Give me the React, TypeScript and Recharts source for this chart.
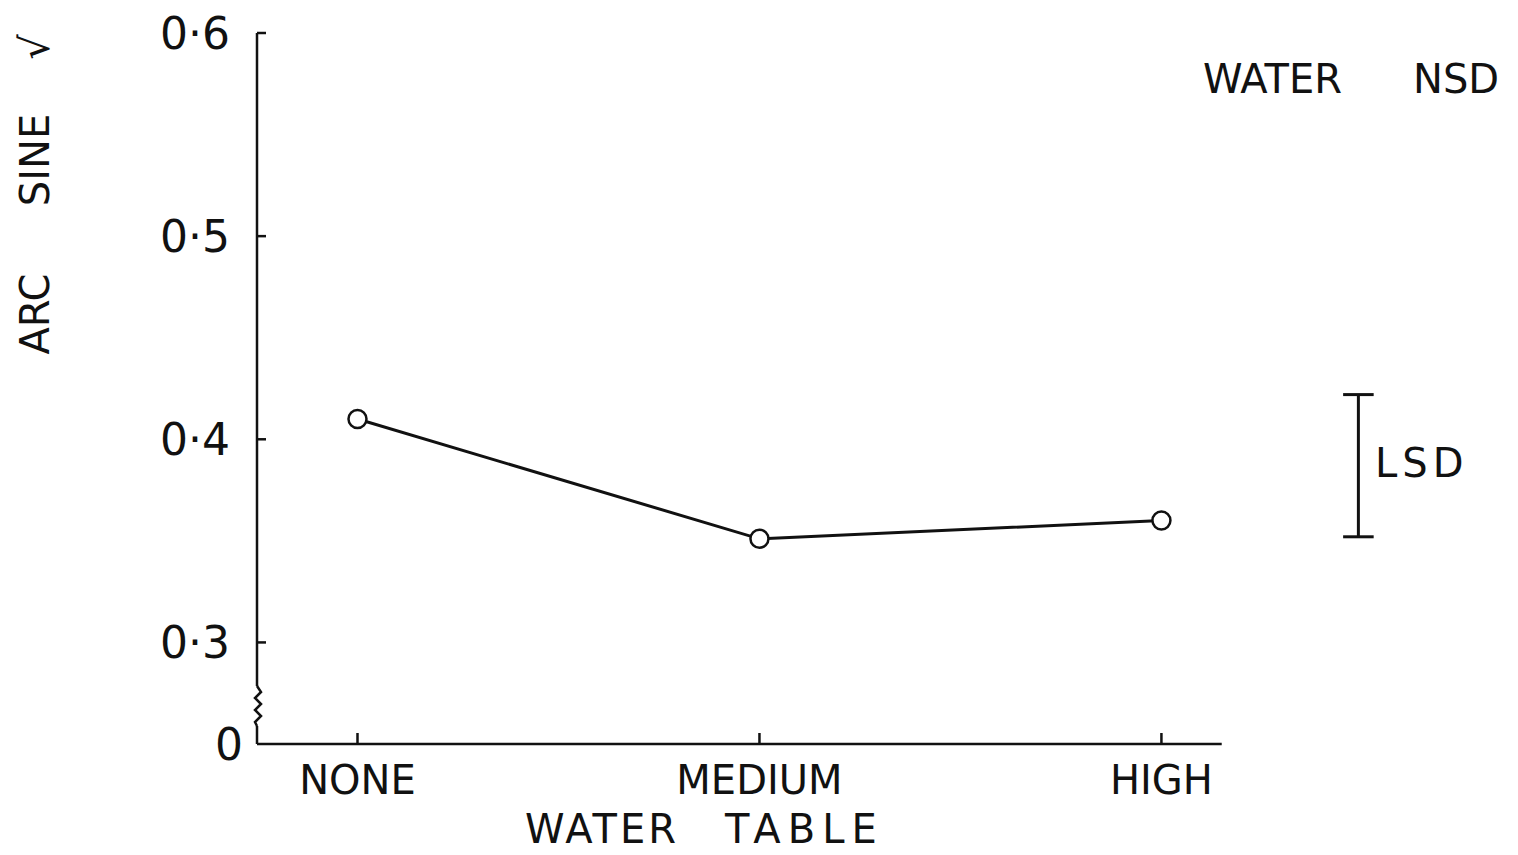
import { LineChart, Line, XAxis, YAxis, ReferenceLine, Customized } from "recharts";

const INK = "#111";
const FONT = "'DejaVu Sans', sans-serif";

const categories = ["NONE", "MEDIUM", "HIGH"];
const arcSine = [0.41, 0.351, 0.36];

const yTicks = [0.25, 0.3, 0.4, 0.5, 0.6];
const yTickLabels = ["0", "0·3", "0·4", "0·5", "0·6"];

// LSD bar drawn right of the last category
const lsdAt = 2.49;
const lsdTop = 0.422;
const lsdBottom = 0.352;

const data = categories.map((name, i) => ({ pos: i, name, value: arcSine[i] }));

function YTick(props: any) {
    const { x, y, payload } = props;
    const label = yTickLabels[yTicks.indexOf(payload.value)];
    const isBreak = payload.value === 0.25;
    return (
        <g>
            {!isBreak && <line x1={x} x2={x + 9} y1={y} y2={y} stroke={INK} strokeWidth={2.5} />}
            {isBreak && (
                <g>
                    <line x1={x} x2={x} y1={y - 58} y2={y - 18} stroke="#fff" strokeWidth={5} />
                    <path
                        d={`M${x} ${y - 58} l4 6 l-6 6 l6 6 l-6 6 l6 6 l-6 6 l2 4`}
                        fill="none"
                        stroke={INK}
                        strokeWidth={2.5}
                    />
                </g>
            )}
            <text
                x={x - (isBreak ? 14 : 27)}
                y={y}
                textAnchor="end"
                dominantBaseline="central"
                fontFamily={FONT}
                fontSize={44}
                fill={INK}
            >
                {label}
            </text>
        </g>
    );
}

function XTick(props: any) {
    const { x, y, payload } = props;
    return (
        <g>
            <line x1={x} x2={x} y1={y} y2={y - 11} stroke={INK} strokeWidth={2.5} />
            <text
                x={x}
                y={y + 36}
                textAnchor="middle"
                dominantBaseline="central"
                fontFamily={FONT}
                fontSize={40}
                fill={INK}
            >
                {categories[payload.value]}
            </text>
        </g>
    );
}

function Annotations() {
    const t = { fontFamily: FONT, fill: INK };
    return (
        <g>
            <text x={1195} y={85} fontSize={40} {...t}>WATER</text>
            <text x={1405} y={85} fontSize={40} {...t}>NSD</text>
            <text x={1367} y={469} fontSize={40} letterSpacing={5} {...t}>LSD</text>
            <text x={517} y={835} fontSize={40} letterSpacing={3} {...t}>WATER</text>
            <text x={717} y={835} fontSize={40} letterSpacing={7} {...t}>TABLE</text>
            <text x={27} y={306} fontSize={40} textAnchor="middle" dominantBaseline="central"
                transform="rotate(-90, 27, 306)" {...t}>ARC</text>
            <text x={27} y={152} fontSize={40} textAnchor="middle" dominantBaseline="central"
                transform="rotate(-90, 27, 152)" {...t}>SINE</text>
            <text x={27} y={39} fontSize={40} textAnchor="middle" dominantBaseline="central"
                transform="rotate(-90, 27, 39)" {...t}>√</text>
        </g>
    );
}

export default function App() {
    return (
        <LineChart
            width={1500}
            height={847}
            data={data}
            margin={{ top: 25, right: 25, left: 149, bottom: 51 }}
        >
            <XAxis
                type="number"
                dataKey="pos"
                domain={[-0.25, 2.8]}
                ticks={[0, 1, 2]}
                allowDataOverflow
                axisLine={false}
                tickLine={false}
                tickSize={0}
                tickMargin={0}
                height={60}
                tick={<XTick />}
            />
            <YAxis
                type="number"
                domain={[0.25, 0.6]}
                ticks={yTicks}
                allowDataOverflow
                width={100}
                axisLine={{ stroke: INK, strokeWidth: 2.5 }}
                tickLine={false}
                tickSize={0}
                tickMargin={0}
                tick={<YTick />}
            />
            <ReferenceLine
                segment={[{ x: -0.25, y: 0.25 }, { x: 2.15, y: 0.25 }]}
                stroke={INK}
                strokeWidth={2.5}
                ifOverflow="visible"
            />
            <ReferenceLine
                segment={[{ x: lsdAt, y: lsdBottom }, { x: lsdAt, y: lsdTop }]}
                stroke={INK}
                strokeWidth={3}
                ifOverflow="visible"
            />
            <ReferenceLine
                segment={[{ x: lsdAt - 0.038, y: lsdTop }, { x: lsdAt + 0.038, y: lsdTop }]}
                stroke={INK}
                strokeWidth={3}
                ifOverflow="visible"
            />
            <ReferenceLine
                segment={[{ x: lsdAt - 0.038, y: lsdBottom }, { x: lsdAt + 0.038, y: lsdBottom }]}
                stroke={INK}
                strokeWidth={3}
                ifOverflow="visible"
            />
            <Line
                type="linear"
                dataKey="value"
                stroke={INK}
                strokeWidth={3}
                dot={{ r: 9, fill: "#fff", stroke: INK, strokeWidth: 2.5 }}
                isAnimationActive={false}
            />
            <Customized component={<Annotations />} />
        </LineChart>
    );
}
